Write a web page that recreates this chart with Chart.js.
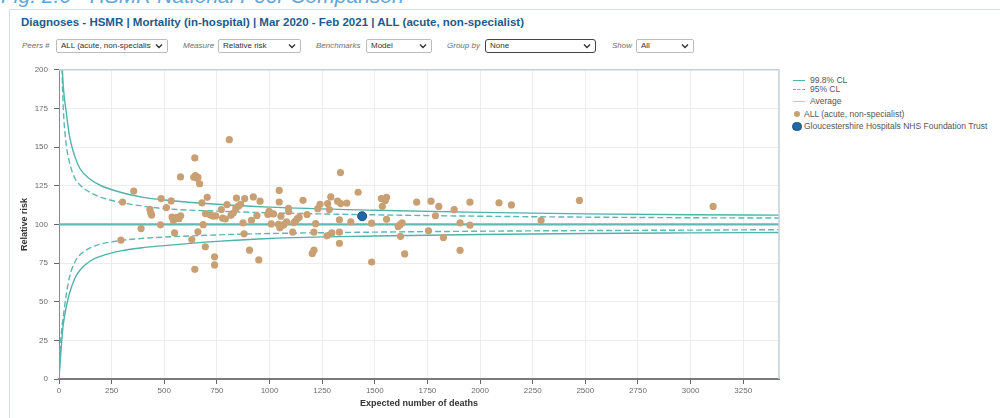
<!DOCTYPE html>
<html>
<head>
<meta charset="utf-8">
<script src="https://cdn.jsdelivr.net/npm/chart.js@4.4.1/dist/chart.umd.min.js"></script>
<style>
  html, body { margin: 0; padding: 0; background: #fff; }
  body { width: 1000px; height: 418px; overflow: hidden; position: relative; font-family: "Liberation Sans", Arial, sans-serif; }
  .fig { position: absolute; left: 1px; top: -16px; font-size: 21px; font-style: italic; color: #5ea6dc; white-space: nowrap; }
  .panel { position: absolute; left: 9px; top: 9px; width: 1000px; height: 420px; border-left: 1px solid #d9dee3; border-top: 1px solid #d9dee3; background: #fff; }
  .title { position: absolute; left: 21px; top: 16px; font-size: 11.5px; font-weight: bold; color: #1d5a8c; white-space: nowrap; }
  .lbl { position: absolute; top: 40px; font-size: 8px; font-style: italic; color: #6d6d6d; white-space: nowrap; line-height: 12px; }
  .sel { position: absolute; top: 39px; height: 12px; border: 1px solid #bcbcbc; border-radius: 2px; font-size: 8px; color: #333; line-height: 12px; padding-left: 4px; box-sizing: content-box; overflow: hidden; white-space: nowrap; }
  .sel span { display: block; overflow: hidden; }
  .sel svg { position: absolute; right: 4px; top: 3px; }
  .sel.focus { border: 1.5px solid #444; border-radius: 3px; top: 38.5px; }
  #wrap { position: absolute; left: 10px; top: 59px; width: 780px; height: 353px; }
  .legend { position: absolute; left: 792px; top: 73px; font-size: 8.5px; color: #555; }
  .legend div { position: absolute; white-space: nowrap; line-height: 10px; }
  .legend i { position: absolute; display: block; }
</style>
</head>
<body>
<div class="fig">Fig. 2.6 - HSMR National Peer Comparison</div>
<div class="panel"></div>
<div class="title">Diagnoses - HSMR | Mortality (in-hospital) | Mar 2020 - Feb 2021 | ALL (acute, non-specialist)</div>
<div id="controls"></div>
<div id="wrap"><canvas id="funnel"></canvas></div>
<div class="legend" id="legend"></div>
<script>
// Funnel limits, at these expected-death values
const limitE = [0, 5, 10, 15, 20, 35, 50, 75, 100, 150, 200, 300, 400, 500, 750, 1000, 1500, 2000, 2500, 3000, 3420];
const upper998 = [null, 330, 245, 205, 190, 172, 157, 144, 136, 129, 125, 120.5, 117.5, 115.8, 113, 111.2, 109.2, 107.8, 106.8, 106.2, 106];
const upper95 = [null, 300, 225, 197, 176, 151, 140, 130, 125.5, 120.5, 117.5, 114, 111.8, 110.2, 108.6, 107.5, 106.2, 105.3, 104.7, 104.3, 104.1];
const lower95 = [0, 18, 28, 35, 40, 55, 66, 75.5, 80.3, 85, 87.3, 89.7, 91, 91.8, 93.2, 94.1, 95, 95.6, 96, 96.3, 96.6];
const lower998 = [0, 10, 19, 28, 35, 47, 55.5, 65, 70.5, 76.5, 79.5, 83, 85, 86.3, 89, 90.9, 92.5, 93.5, 94.1, 94.5, 94.8];
const averageRR = 100;

// Peer trusts: expected deaths and relative risk
const peerExpected = [302, 355, 294, 390, 432, 436, 440, 485, 482, 510, 533, 549, 537, 543, 552, 560, 570, 578, 577, 631,
  640, 648, 655, 660, 645, 668, 660, 679, 685, 696, 704, 695, 645, 739, 739, 718, 731, 744, 771, 777,
  790, 798, 809, 817, 840, 852, 863, 843, 874, 879, 882, 905, 914, 923, 940, 949, 955, 992, 998, 1008,
  1019, 1008, 1046, 1046, 1043, 1049, 1057, 1068, 1054, 1081, 1090, 1091, 1110, 1116, 1124, 1132, 1141, 1159, 1178, 1203,
  1211, 1211, 1219, 1229, 1240, 1273, 1276, 1284, 1291, 1296, 1323, 1338, 1367, 1337, 1332, 1332, 1332, 1386, 1421, 1485,
  1485, 1531, 1550, 1556, 1536, 1556, 1611, 1620, 1630, 1622, 1642, 1699, 1755, 1767, 1788, 1804, 1826, 1877, 1905, 1905,
  1952, 1952, 2090, 2149, 2290, 2472, 3107, 828];
const peerRR = [114.5, 121.6, 89.8, 97.3, 109.7, 107.5, 106, 116.7, 99.7, 110.9, 115.2, 94.5, 104.8, 102.6, 103.5, 104.5, 103.8, 105.6, 130.7, 90.2,
  130.5, 131.5, 129.8, 130.4, 143, 126.3, 95.2, 113.9, 99.8, 107, 117.5, 85.5, 71, 79, 73.8, 106.2, 105.4, 105.5, 109.6, 104,
  103.5, 112.8, 154.8, 105.9, 110.5, 111.8, 113, 117, 101, 93.9, 116.7, 83.3, 102.7, 117.8, 105.7, 77, 115, 106.5, 108.5, 107,
  106.8, 100.3, 122, 114.5, 100, 97.8, 99, 99.8, 105.3, 101.6, 110.4, 108.3, 95, 101.2, 102.3, 103.8, 104.6, 115.6, 106.4, 81.2,
  83.3, 95, 100.5, 110.2, 113, 92.6, 113.5, 109.6, 117.8, 94.5, 115, 113.5, 113.8, 133.5, 103, 95, 87.8, 101.6, 120.8, 100.8,
  75.6, 116.7, 115.5, 117.5, 111.7, 103.3, 98.7, 99.8, 101, 92.3, 80.9, 114.4, 95.9, 115, 105.6, 111.6, 91.6, 109.5, 101, 83.2,
  114.4, 99.5, 114, 112.6, 102.6, 115.5, 111.6, 107.3];

const trustExpected = [1440];
const trustRR = [105.3];

const xTicksMax = 3420;
const yTicks = [0, 200];

const controls = [
  ['Peers #', 22, 'ALL (acute, non-specialist)', 56, 110, false],
  ['Measure', 183, 'Relative risk', 218, 81, false],
  ['Benchmarks', 316, 'Model', 366, 64, false],
  ['Group by', 447, 'None', 485, 109, true],
  ['Show', 612, 'All', 636, 56, false]
];

const TEAL = '#4fb2ab';
const TEAL_DASH = '#5cb8b2';
const TEAL_AVG = '#5fbab3';
const TAN = '#c9a073';
const BLUE = '#1f6aa5';

function pairs(xs, ys) {
  return xs.map((x, i) => ({ x: x, y: ys[i] })).filter(p => p.y !== null);
}

// Dropdown row
const ctrlBox = document.getElementById('controls');
controls.forEach(c => {
  const l = document.createElement('div');
  l.className = 'lbl';
  l.style.left = c[1] + 'px';
  l.textContent = c[0];
  ctrlBox.appendChild(l);
  const s = document.createElement('div');
  s.className = 'sel' + (c[5] ? ' focus' : '');
  s.style.left = c[3] + 'px';
  s.style.width = (c[4] - 4) + 'px';
  s.innerHTML = '<span style="width:' + (c[4] - 20) + 'px"></span>' +
    '<svg width="8" height="6" viewBox="0 0 8 6"><path d="M1 1.5 L4 4.5 L7 1.5" fill="none" stroke="#333" stroke-width="1.4"/></svg>';
  s.querySelector('span').textContent = c[2];
  ctrlBox.appendChild(s);
});

const frame = {
  id: 'frame',
  afterDatasetsDraw(chart) {
    const { ctx, chartArea: a } = chart;
    ctx.save();
    ctx.strokeStyle = '#c4cfd8';
    ctx.lineWidth = 1.5;
    ctx.beginPath();
    ctx.moveTo(a.left, a.top);
    ctx.lineTo(a.right, a.top);
    ctx.lineTo(a.right, a.bottom);
    ctx.stroke();
    ctx.restore();
  }
};

const tickFont = { family: '"Liberation Sans", Arial, sans-serif', size: 8 };
const titleFont = { family: '"Liberation Sans", Arial, sans-serif', size: 9, weight: 'bold' };

new Chart(document.getElementById('funnel'), {
  type: 'scatter',
  data: {
    datasets: [
      { label: 'Gloucestershire Hospitals NHS Foundation Trust', data: pairs(trustExpected, trustRR),
        backgroundColor: BLUE, borderColor: '#174f7d', borderWidth: 1, pointRadius: 4.5, order: 0 },
      { label: 'ALL (acute, non-specialist)', data: pairs(peerExpected, peerRR),
        backgroundColor: TAN, borderColor: TAN, borderWidth: 0, pointRadius: 3.6, order: 1 },
      { label: '99.8% CL', type: 'line', data: pairs(limitE, upper998), borderColor: TEAL, borderWidth: 1.4,
        pointRadius: 0, cubicInterpolationMode: 'monotone', order: 3 },
      { label: '99.8% CL lower', type: 'line', data: pairs(limitE, lower998), borderColor: TEAL, borderWidth: 1.4,
        pointRadius: 0, cubicInterpolationMode: 'monotone', order: 3 },
      { label: '95% CL', type: 'line', data: pairs(limitE, upper95), borderColor: TEAL_DASH, borderWidth: 1.4,
        borderDash: [6, 3], pointRadius: 0, cubicInterpolationMode: 'monotone', order: 4 },
      { label: '95% CL lower', type: 'line', data: pairs(limitE, lower95), borderColor: TEAL_DASH, borderWidth: 1.4,
        borderDash: [6, 3], pointRadius: 0, cubicInterpolationMode: 'monotone', order: 4 },
      { label: 'Average', type: 'line', data: [{ x: 0, y: averageRR }, { x: xTicksMax, y: averageRR }],
        borderColor: TEAL_AVG, borderWidth: 2.2, pointRadius: 0, order: 5 }
    ]
  },
  options: {
    responsive: true,
    maintainAspectRatio: false,
    animation: false,
    layout: { padding: { top: 7, right: 11, left: 0, bottom: 0 } },
    plugins: { legend: { display: false }, tooltip: { enabled: false } },
    scales: {
      x: {
        type: 'linear', min: 0, max: xTicksMax,
        afterFit: s => { s.height = 33; },
        ticks: { stepSize: 250, includeBounds: false, font: tickFont, color: '#6b6b6b', padding: 2, maxRotation: 0,
          callback: v => String(v) },
        grid: { color: '#ededed', tickColor: '#666', tickLength: 5 },
        border: { color: '#7a7a7a', width: 2 },
        title: { display: true, text: 'Expected number of deaths', font: titleFont, color: '#333', padding: { top: 0, bottom: 3 } }
      },
      y: {
        min: yTicks[0], max: yTicks[1],
        afterFit: s => { s.width = 49; },
        ticks: { stepSize: 25, font: tickFont, color: '#6b6b6b', padding: 6, callback: v => String(v) },
        grid: { color: '#ededed', tickColor: '#666', tickLength: 5 },
        border: { color: '#8a8a8a', width: 1 },
        title: { display: true, text: 'Relative risk', font: titleFont, color: '#333', padding: { top: 9, bottom: 0 } }
      }
    }
  },
  plugins: [frame]
});

// Legend, built from the same labels and colours
const legendItems = [
  ['99.8% CL', 'line', TEAL, 6.5],
  ['95% CL', 'dash', TEAL_DASH, 16],
  ['Average', 'line', '#9fd6d2', 28],
  ['ALL (acute, non-specialist)', 'dot', TAN, 40.5],
  ['Gloucestershire Hospitals NHS Foundation Trust', 'big', BLUE, 53]
];
const leg = document.getElementById('legend');
legendItems.forEach(it => {
  const row = document.createElement('div');
  row.style.top = (it[3] - 5) + 'px';
  let sym;
  if (it[1] === 'dot') {
    sym = '<i style="left:2px;top:2px;width:6px;height:6px;border-radius:50%;background:' + it[2] + '"></i>';
  } else if (it[1] === 'big') {
    sym = '<i style="left:0px;top:0.5px;width:7.5px;height:7.5px;border-radius:50%;background:' + it[2] + ';border:1px solid #174f7d"></i>';
  } else if (it[1] === 'dash') {
    sym = '<i style="left:1px;top:5px;width:12px;height:0;border-top:1.4px dashed ' + it[2] + '"></i>';
  } else {
    sym = '<i style="left:1px;top:5px;width:12px;height:0;border-top:1.4px solid ' + it[2] + '"></i>';
  }
  const pad = (it[1] === 'big' || it[1] === 'dot') ? 12 : 18;
  row.innerHTML = sym + '<span style="padding-left:' + pad + 'px"></span>';
  row.querySelector('span').textContent = it[0];
  leg.appendChild(row);
});
</script>
</body>
</html>
